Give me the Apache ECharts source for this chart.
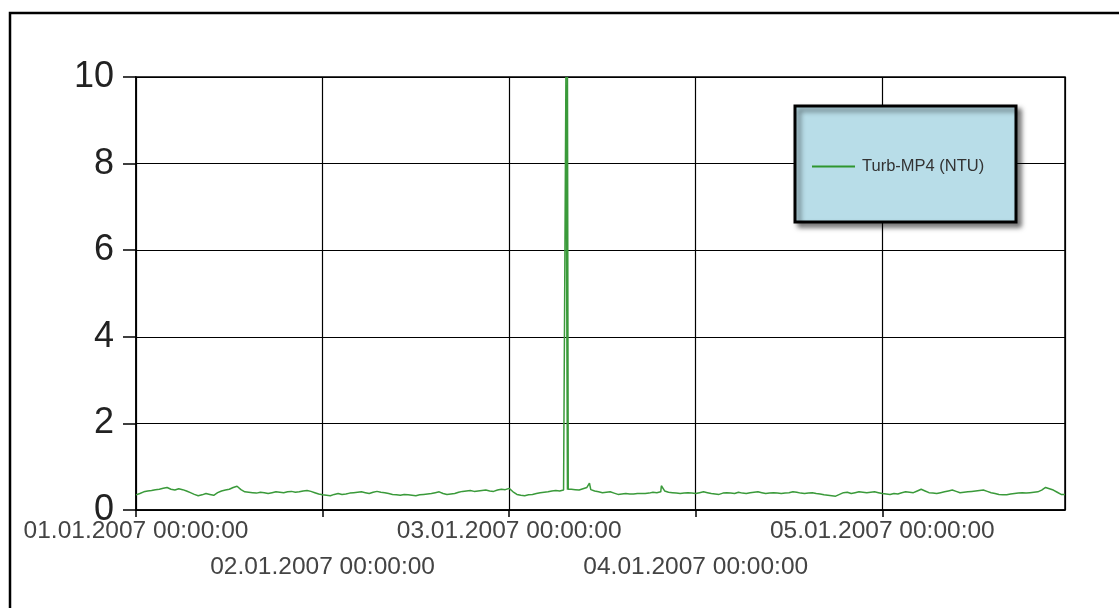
<!DOCTYPE html>
<html>
<head>
<meta charset="utf-8">
<script src="https://cdn.jsdelivr.net/npm/echarts@6/dist/echarts.min.js"></script>
<style>
html,body{margin:0;padding:0;background:#fff;}
#chart{width:1119px;height:608px;}
</style>
</head>
<body>
<div id="chart"></div>
<script>
// Hourly turbidity readings (NTU), one array per day, starting at 00:00
const day1 = [0.35,0.42,0.45,0.48,0.52,0.46,0.47,0.40,0.33,0.38,0.34,0.44,0.48,0.55,0.42,0.40,0.41,0.38,0.42,0.40,0.43,0.42,0.45,0.40];
const day2 = [0.35,0.33,0.38,0.37,0.40,0.42,0.38,0.43,0.40,0.36,0.34,0.35,0.33,0.36,0.38,0.42,0.36,0.38,0.43,0.45,0.44,0.46,0.43,0.48];
const day3 = [0.50,0.36,0.33,0.36,0.40,0.42,0.45,0.46,0.48,0.46,0.52,0.44,0.40,0.42,0.36,0.38,0.37,0.38,0.39,0.40,0.44,0.40,0.38,0.40];
const day4 = [0.38,0.42,0.38,0.36,0.40,0.38,0.39,0.40,0.42,0.38,0.40,0.38,0.40,0.41,0.38,0.40,0.37,0.34,0.32,0.40,0.38,0.42,0.40,0.42];
const day5 = [0.38,0.36,0.37,0.42,0.40,0.48,0.40,0.38,0.42,0.46,0.40,0.42,0.44,0.46,0.40,0.36,0.35,0.38,0.40,0.40,0.42,0.52,0.46,0.36];
// Half-hour readings (NTU) at hh:30, one array per day
const half1 = [0.38,0.44,0.47,0.50,0.48,0.49,0.44,0.36,0.35,0.36,0.40,0.46,0.52,0.47,0.41,0.39,0.40,0.40,0.41,0.42,0.41,0.44,0.43,0.37];
const half2 = [0.34,0.36,0.36,0.39,0.41,0.40,0.41,0.41,0.38,0.35,0.36,0.34,0.35,0.37,0.40,0.38,0.37,0.41,0.44,0.43,0.45,0.44,0.46,0.47];
const half3 = [0.42,0.34,0.35,0.38,0.41,0.44,0.44,0.47,0.47,0.49,0.47,0.42,0.41,0.39,0.37,0.37,0.38,0.38,0.41,0.42,0.41,0.39,0.39,0.39];
const half4 = [0.40,0.40,0.37,0.39,0.39,0.41,0.38,0.41,0.40,0.39,0.39,0.39,0.42,0.39,0.39,0.38,0.35,0.33,0.36,0.41,0.40,0.41,0.41,0.40];
const half5 = [0.37,0.38,0.40,0.41,0.44,0.44,0.39,0.40,0.44,0.43,0.41,0.43,0.45,0.43,0.38,0.35,0.37,0.39,0.39,0.41,0.46,0.49,0.41];
// Extra readings at irregular times: [hours since 01.01.2007 00:00, NTU]
const extraPoints = [[55.2,0.46],[55.3,10],[55.5,10],[55.6,0.48],[58.33,0.62],[67.58,0.56],[119.5,0.36]];
const dayLabels = ['01.01.2007 00:00:00','02.01.2007 00:00:00','03.01.2007 00:00:00','04.01.2007 00:00:00','05.01.2007 00:00:00'];
const seriesName = 'Turb-MP4 (NTU)';

const days = [day1, day2, day3, day4, day5];
const halves = [half1, half2, half3, half4, half5];
let pts = [];
days.forEach((d, di) => d.forEach((v, h) => pts.push([di * 24 + h, v])));
halves.forEach((d, di) => d.forEach((v, h) => pts.push([di * 24 + h + 0.5, v])));
pts = pts.concat(extraPoints).sort((a, b) => a[0] - b[0]);

const labelBase = { showMinLabel: true, showMaxLabel: false, hideOverlap: false,
  fontFamily: 'Liberation Sans', fontSize: 24.5, color: '#444', verticalAlign: 'top' };

const chart = echarts.init(document.getElementById('chart'));
chart.setOption({
  animation: false,
  backgroundColor: '#fff',
  grid: { left: 136, right: 54, top: 77, bottom: 98, show: true, borderColor: '#000', borderWidth: 1.5 },
  xAxis: [{
    type: 'value', min: 0, max: 119.5, interval: 24, position: 'bottom',
    axisLine: { lineStyle: { color: '#000', width: 1.5 } },
    axisTick: { show: true, length: 7, lineStyle: { color: '#000', width: 1.5 } },
    splitLine: { show: true, lineStyle: { color: '#000', width: 1.2 } },
    axisLabel: Object.assign({}, labelBase, { margin: 9,
      formatter: function (v) { const i = Math.round(v / 24); return i % 2 === 0 ? (dayLabels[i] || '') : ''; } })
  }, {
    type: 'value', min: 0, max: 119.5, interval: 24, position: 'bottom', offset: 0,
    axisLine: { show: false }, axisTick: { show: false }, splitLine: { show: false },
    axisLabel: Object.assign({}, labelBase, { margin: 45,
      formatter: function (v) { const i = Math.round(v / 24); return i % 2 === 1 ? (dayLabels[i] || '') : ''; } })
  }],
  yAxis: {
    type: 'value', min: 0, max: 10, interval: 2,
    axisLine: { show: true, lineStyle: { color: '#000', width: 1.5 } },
    axisTick: { show: true, length: 13, lineStyle: { color: '#000', width: 1.5 } },
    splitLine: { show: true, lineStyle: { color: '#000', width: 1.2 } },
    axisLabel: { fontFamily: 'Liberation Sans', fontSize: 36, color: '#222', margin: 22 }
  },
  legend: {
    left: 812, top: 158, padding: 0, itemWidth: 43, itemHeight: 14, z: 10,
    data: [{ name: seriesName, icon: 'path://M0,6 L43,6 L43,8 L0,8 Z' }],
    textStyle: { fontFamily: 'Liberation Sans', fontSize: 16.5, color: '#333', padding: [0, 0, 0, 2] }
  },
  graphic: [
    { type: 'rect', z: 1, shape: { x: 10, y: 13, width: 1300, height: 800 }, style: { fill: 'none', stroke: '#000', lineWidth: 2.5 } },
    { type: 'rect', z: 5, shape: { x: 795, y: 106, width: 221, height: 116 },
      style: { fill: '#b8dde8', stroke: '#000', lineWidth: 3, shadowBlur: 5, shadowColor: 'rgba(0,0,0,0.5)', shadowOffsetX: 4, shadowOffsetY: 4 } }
  ],
  series: [{
    name: seriesName, type: 'line', data: pts, showSymbol: false, symbol: 'none', xAxisIndex: 0,
    lineStyle: { color: '#3a9a3a', width: 1.5 }, itemStyle: { color: '#2f962f' }, z: 3
  }]
});
</script>
</body>
</html>
